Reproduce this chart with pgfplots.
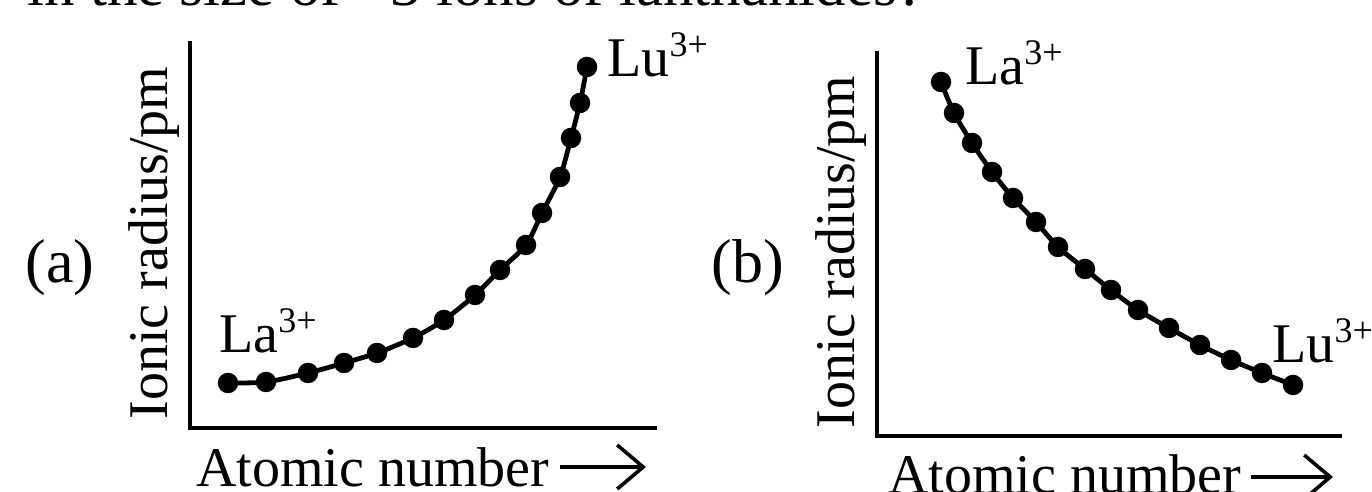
\documentclass[border=0pt]{standalone}
\usepackage{fontspec}
\setmainfont{Liberation Serif}
\usepackage{pgfplots}
\pgfplotsset{compat=1.18}
\usetikzlibrary{arrows.meta}
\newcommand\sps[1]{\raisebox{10pt}{\fontsize{18}{20}\selectfont #1}}
\begin{document}
\begin{tikzpicture}[x=0.5pt,y=0.5pt]
\clip (0,0) rectangle (1372,492);
\fill[white] (0,0) rectangle (1372,492);
\pgfplotsset{
  myaxis/.style={
    scale only axis, axis lines=left,
    axis line style={-, line width=2.4pt, line cap=rect},
    xtick=\empty, ytick=\empty, clip=false, anchor=south west
  },
  mycurve/.style={black, line width=2.4pt, smooth, tension=0.45,
    mark=*, mark size=3.9pt, mark options={fill=black}}
}
% top (cropped) text
\node[anchor=base west, inner sep=0] at (27,486) {\fontsize{30.5}{36}\selectfont in the size of +3 ions of lanthanides?};
% panel (a)
\begin{axis}[myaxis, at={(190,64)}, width=232.5pt, height=192.5pt,
  xmin=190, xmax=655, ymin=64, ymax=449]
\addplot[mycurve] coordinates {
(228,109) (266,110) (308,119) (344,129) (377,139) (413,154) (444,172)
(475,197) (500,222) (526,247) (542,279) (560,315) (571,354) (580,389) (587,425)};
\end{axis}
% panel (b)
\begin{axis}[myaxis, at={(877,56)}, width=231.5pt, height=191.5pt,
  xmin=877, xmax=1340, ymin=56, ymax=439]
\addplot[mycurve] coordinates {
(941,410) (954,379) (972,349) (992,320) (1013,294) (1036,270) (1058,245)
(1085,223) (1111,202) (1138,182) (1169,164) (1200,147) (1231,132) (1262,119) (1293,107)};
\end{axis}
\tikzset{lab/.style={inner sep=0, font=\fontsize{28}{34}\selectfont}}
\node[lab, anchor=base west] at (219,139) {La\sps{3+}};
\node[lab, anchor=base west] at (607,415) {Lu\sps{3+}};
\node[lab, anchor=base west] at (965,407) {La\sps{3+}};
\node[lab, anchor=base west] at (1272,129) {Lu\sps{3+}};
\node[inner sep=0, font=\fontsize{31}{36}\selectfont] at (60,224) {(a)};
\node[inner sep=0, font=\fontsize{31}{36}\selectfont] at (748,224) {(b)};
\node[lab, rotate=90] at (154,249) {Ionic radius/pm};
\node[lab, rotate=90] at (841,240) {Ionic radius/pm};
\node[lab, anchor=base west] at (196,5) {Atomic number};
\node[lab, anchor=base west] at (888,-2) {Atomic number};
\draw[line width=1.8pt, -{Straight Barb[length=13pt,width=22pt,line width=1.8pt]}] (560,25) -- (646,25);
\draw[line width=1.8pt, -{Straight Barb[length=13pt,width=22pt,line width=1.8pt]}] (1251,15) -- (1333,15);
\end{tikzpicture}
\end{document}
